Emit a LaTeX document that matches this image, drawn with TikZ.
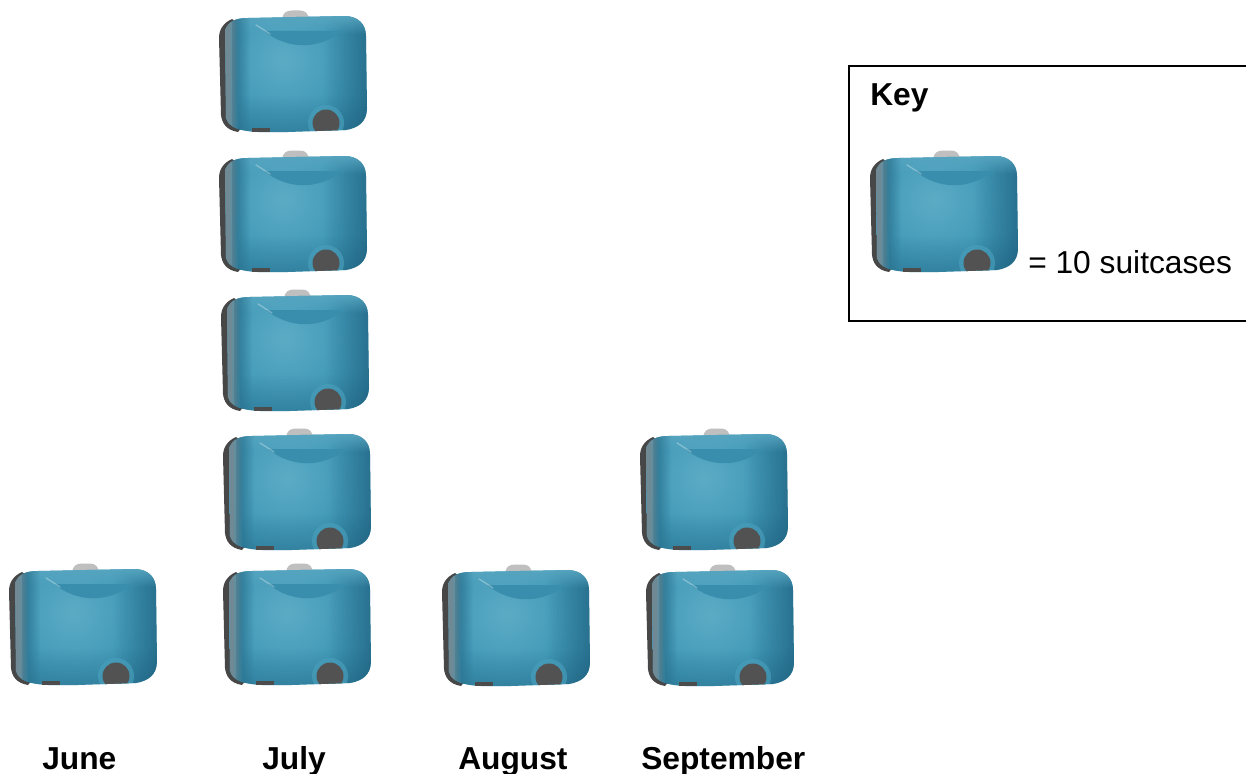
\documentclass[tikz,border=0pt]{standalone}
\usepackage{fontspec}
\setmainfont{Liberation Sans}
\usetikzlibrary{shadings,fadings}
\definecolor{caseA}{HTML}{5CABC5}
\definecolor{caseB}{HTML}{3F98B6}
\definecolor{caseC}{HTML}{2F87A6}
\definecolor{caseD}{HTML}{226F8E}
\definecolor{caseRim}{HTML}{58A6C1}
\definecolor{caseDark}{HTML}{164E6C}
\definecolor{caseSide}{HTML}{6F8A95}
\definecolor{caseShadow}{HTML}{2A7390}
\pgfdeclareradialshading{caseglow}{\pgfpoint{0bp}{0bp}}{
  color(0bp)=(caseA); color(15bp)=(caseB); color(30bp)=(caseC); color(45bp)=(caseD); color(100bp)=(caseD)}
\tikzset{
  lbl/.style={anchor=base west,inner sep=0pt,font=\fontsize{23.8}{28}\selectfont\bfseries},
  plain/.style={anchor=base west,inner sep=0pt,font=\fontsize{23.8}{28}\selectfont},
  suitcase/.pic={
    \fill[gray!50] (64,9) .. controls (65,3) and (68,0.5) .. (74,0.5) -- (82,0.5) .. controls (88,0.5) and (90,4) .. (91,9) -- cycle;
    \fill[black!72] (14,9) .. controls (5,13) and (1,20) .. (1,28) -- (3,105) .. controls (4,113) and (8,120) .. (20,122) -- (30,110) -- (30,20) -- cycle;
    \begin{scope}
      \clip (7,20) .. controls (11,11) and (18,8) .. (30,8) -- (126,6) .. controls (140,6) and (148,14) .. (148,26) -- (149,98) .. controls (149,112) and (140,118) .. (128,120) -- (70,122) -- (40,122) .. controls (22,121) and (11,118) .. (8,108) -- cycle;
      \shade[shading=caseglow] (65,50) circle[radius=110];
      \fill[caseDark,path fading=west,opacity=.5] (105,0) rectangle (150,125);
      \fill[caseDark,path fading=north,opacity=.3] (20,85) rectangle (150,125);
      \fill[caseRim,path fading=south] (0,4) rectangle (150,24);
      \fill[caseC!80!caseA] (46,21) .. controls (70,40) and (100,40) .. (125,21) -- cycle;
      \fill[caseShadow,path fading=east] (14,0) rectangle (32,125);
      \fill[caseSide,path fading=east] (10,0) rectangle (20,125);
      \fill[caseSide] (0,0) rectangle (12,125);
      \fill[caseB!70!caseA,opacity=.7] (108,113) circle[radius=18];
      \fill[black!68] (108,113) circle[radius=13.5];
    \end{scope}
    \draw[white,line width=1pt,opacity=.3,line cap=round] (38,15) .. controls (43,18) and (46,20) .. (52,24);
    \fill[black!70] (34,118) rectangle (52,122);
  }
}
\begin{document}
\begin{tikzpicture}[x=0.75pt,y=-0.75pt]
\useasboundingbox (0,0) rectangle (1246,774);
\pic (c1) at (8,563) {suitcase};
\pic (c2) at (222,563) {suitcase};
\pic (c3) at (222,428) {suitcase};
\pic (c4) at (220,289) {suitcase};
\pic (c5) at (218,150) {suitcase};
\pic (c6) at (218,10) {suitcase};
\pic (c7) at (441,564) {suitcase};
\pic (c8) at (645,564) {suitcase};
\pic (c9) at (639,428) {suitcase};
\pic (k1) at (869,150) {suitcase};
\draw[line width=1.5pt] (1246,66.5) -- (849,66.5) -- (849,320.5) -- (1246,320.5);
\node[lbl] (key) at (870,105) {Key};
\node[plain] (keytext) at (1028,273) {= 10 suitcases};
\node[lbl] (june) at (42,769) {June};
\node[lbl] (july) at (262,769) {July};
\node[lbl] (august) at (458,769) {August};
\node[lbl] (september) at (641,769) {September};
\end{tikzpicture}
\end{document}
